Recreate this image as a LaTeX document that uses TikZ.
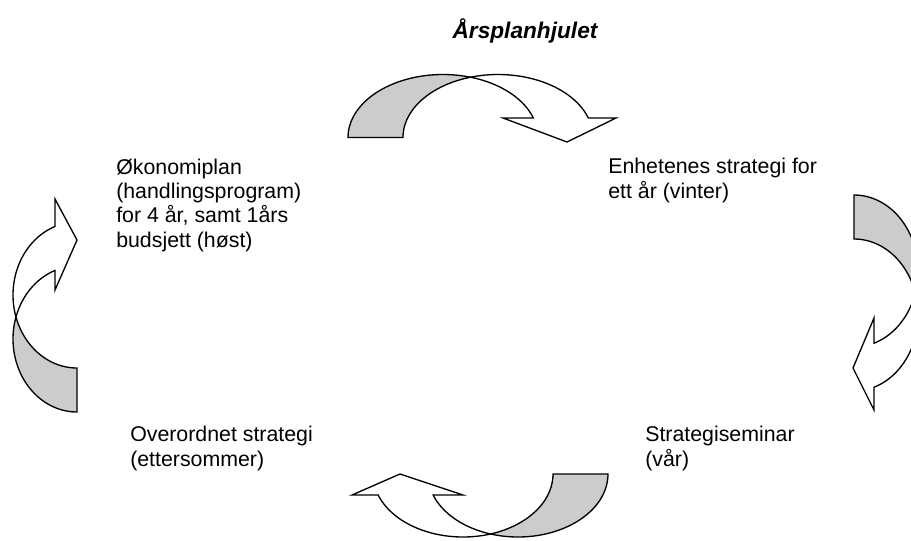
\documentclass[tikz,border=0pt]{standalone}
\usepackage{fontspec}
\setmainfont{Liberation Sans}
\definecolor{shadegray}{RGB}{204,204,204}
% #1 R, #2 thickness, #3 bulge, #4 arrowhead base, #5 inner wing, #6 outer wing, #7 tip s, #8 tip b
\newcommand{\ringarrow}[8]{%
  \pgfmathsetmacro{\tcA}{acos(#2/(2*#1))}%
  \pgfmathsetmacro{\tdA}{180-\tcA}%
  \pgfmathsetmacro{\alA}{asin(#4/#3)}%
  \pgfmathsetmacro{\ctA}{#1+#2}%
  \filldraw[ringline, fill=shadegray]
    plot[domain=0:1, samples=50] ({#1+#1*cos(180+(\tcA-180)*\x)},{#3*sin(180+(\tcA-180)*\x)})
    -- plot[domain=0:1, samples=50] ({\ctA+#1*cos(\tdA+(180-\tdA)*\x)},{#3*sin(\tdA+(180-\tdA)*\x)})
    -- cycle;
  \filldraw[ringline, fill=white]
    plot[domain=0:1, samples=50] ({\ctA+#1*cos(\tdA+(\alA-\tdA)*\x)},{#3*sin(\tdA+(\alA-\tdA)*\x)})
    -- (#6,#4) -- (#7,#8) -- (#5,#4)
    -- plot[domain=0:1, samples=50] ({#1+#1*cos(\alA+(\tcA-\alA)*\x)},{#3*sin(\alA+(\tcA-\alA)*\x)})
    -- cycle;
}
\tikzset{
  ringline/.style={draw=black, line width=1pt, line join=miter},
  txt/.style={font=\fontsize{16}{18.2}\selectfont, align=left, inner sep=0pt, anchor=base west},
  titletxt/.style={font=\fontsize{17}{20}\selectfont\bfseries\itshape, inner sep=0pt, anchor=base}
}
\begin{document}
\begin{tikzpicture}[x=0.75pt,y=-0.75pt]
\useasboundingbox (0,0) rectangle (911,540);
\clip (0,0) rectangle (911,540);
\fill[white] (0,0) rectangle (911,540);

\node[titletxt] (title) at (525,38) {Årsplanhjulet};

% top arrow
\begin{scope}[shift={(348,137.5)}, x={(0.75pt,0pt)}, y={(0pt,0.75pt)}]
  \ringarrow{95}{55}{63}{19.5}{155}{268}{219}{-4.5}
\end{scope}
% right arrow
\begin{scope}[shift={(854,195)}, x={(0pt,-0.75pt)}, y={(0.75pt,0pt)}]
  \ringarrow{76}{44}{64}{20}{123}{215}{173}{-1}
\end{scope}
% bottom arrow
\begin{scope}[shift={(608,474)}, x={(-0.75pt,0pt)}, y={(0pt,-0.75pt)}]
  \ringarrow{90}{55}{63}{21}{145}{256}{208}{0}
\end{scope}
% left arrow
\begin{scope}[shift={(77,412)}, x={(0pt,0.75pt)}, y={(-0.75pt,0pt)}]
  \ringarrow{73}{44}{64}{22}{122}{213}{172}{0}
\end{scope}

% multi-line nodes: base anchor sits on the last line
\node[txt] (oko) at (116,247) {Økonomiplan\\(handlingsprogram)\\for 4 år, samt 1års\\budsjett (høst)};
\node[txt] (enh) at (608,198) {Enhetenes strategi for\\ett år (vinter)};
\node[txt] (sem) at (645,466) {Strategiseminar\\(vår)};
\node[txt] (ove) at (130,466) {Overordnet strategi\\(ettersommer)};
\end{tikzpicture}
\end{document}
